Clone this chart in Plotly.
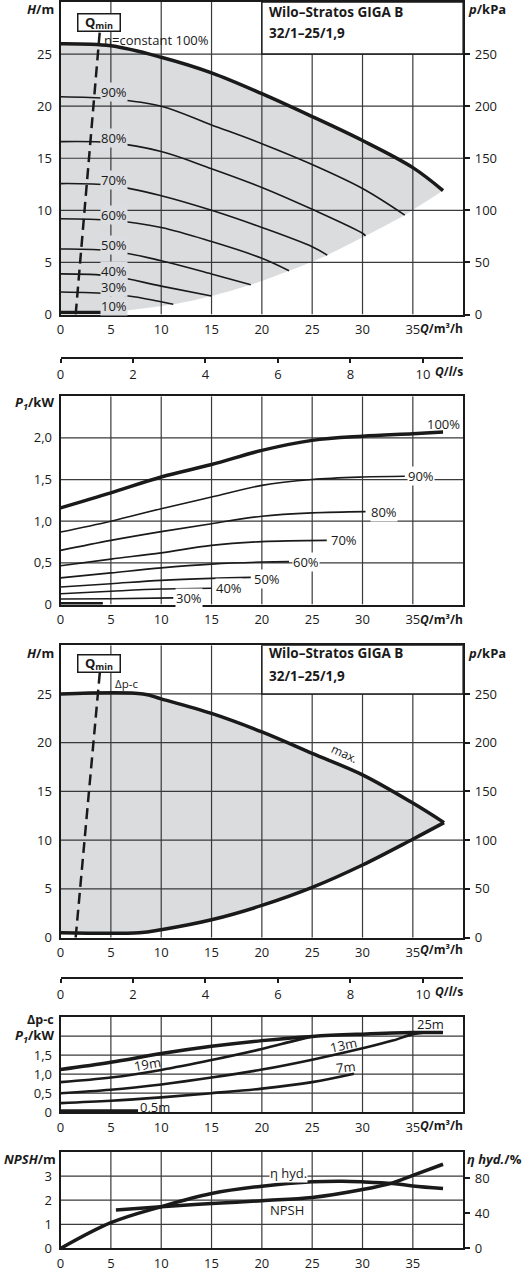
import plotly.graph_objects as go

W, H = 523, 1280
FONT = "Open Sans"
INK = "#1a1a1a"
GRID = "#3a3a3a"
FILL = "rgba(40,46,62,0.17)"
FILL_SOLID = "#dcdde0"

# ---------------- data ----------------
# Chart 1: head H (m) vs flow Q (m3/h), constant speed curves
n100_q = [0, 5, 10, 15, 20, 25, 30, 35, 38]
n100_h = [26.0, 25.8, 24.7, 23.2, 21.2, 19.0, 16.7, 14.1, 11.9]
n90_q = [0, 5, 10, 15, 20, 25, 30, 34.2]
n90_h = [20.9, 20.7, 20.0, 18.2, 16.4, 14.4, 12.1, 9.55]
n80_q = [0, 5, 10, 15, 20, 25, 30, 30.3]
n80_h = [16.6, 16.5, 15.65, 14.0, 12.2, 10.1, 7.8, 7.55]
n70_q = [0, 5, 10, 15, 20, 25, 26.5]
n70_h = [12.57, 12.4, 11.4, 10.0, 8.35, 6.5, 5.7]
n60_q = [0, 5, 10, 15, 20, 22.7]
n60_h = [9.2, 9.05, 8.35, 7.0, 5.4, 4.2]
n50_q = [0, 5, 10, 15, 18.9]
n50_h = [6.29, 6.13, 5.17, 3.9, 2.86]
n40_q = [0, 5, 10, 15]
n40_h = [3.9, 3.7, 2.73, 1.78]
n30_q = [0, 5, 7.5, 11.2]
n30_h = [2.16, 2.0, 1.68, 0.98]
n10_q = [0, 4.2]
n10_h = [0.2, 0.2]
env_q = [0, 4.2, 11.2, 15, 18.9, 22.7, 26.5, 30.3, 34.2, 38]
env_h = [0, 0.15, 0.98, 1.78, 2.86, 4.2, 5.7, 7.55, 9.55, 11.9]
qmin_q = [1.5, 3.9]
qmin_h = [0, 27.2]
speed_labels = ["90%", "80%", "70%", "60%", "50%", "40%", "30%", "10%"]
speed_label_h = [21.33, 16.98, 12.89, 9.52, 6.67, 4.22, 2.64, 0.83]

# Chart 2: power P1 (kW) vs Q, constant speed
p100_q = [0, 5, 10, 15, 20, 25, 30, 35, 38]
p100_p = [1.16, 1.34, 1.53, 1.68, 1.85, 1.97, 2.02, 2.05, 2.07]
p90_q = [0, 5, 10, 15, 20, 25, 30, 34.2]
p90_p = [0.87, 1.0, 1.15, 1.29, 1.43, 1.50, 1.53, 1.54]
p80_q = [0, 5, 10, 15, 20, 25, 30.3]
p80_p = [0.65, 0.77, 0.875, 0.97, 1.06, 1.10, 1.115]
p70_q = [0, 5, 10, 15, 20, 26.45]
p70_p = [0.465, 0.545, 0.62, 0.71, 0.755, 0.77]
p60_q = [0, 5, 10, 15, 20, 22.7]
p60_p = [0.32, 0.38, 0.44, 0.485, 0.51, 0.515]
p50_q = [0, 5, 10, 15, 18.9]
p50_p = [0.21, 0.25, 0.29, 0.314, 0.326]
p40_q = [0, 5, 10, 15]
p40_p = [0.13, 0.16, 0.186, 0.195]
p30_q = [0, 5, 11.2]
p30_p = [0.067, 0.07, 0.08]
p10_q = [0, 4.2]
p10_p = [0.01, 0.01]
power_labels = ["100%", "90%", "80%", "70%", "60%", "50%", "40%", "30%"]
power_label_q = [36.3, 34.45, 30.7, 26.8, 23.0, 19.1, 15.3, 11.4]
power_label_p = [2.17, 1.54, 1.115, 0.77, 0.515, 0.31, 0.195, 0.08]

# Chart 3: delta p-c operating field
dpmax_q = [0, 8.2, 10, 15, 20, 25, 30, 35, 38.1]
dpmax_h = [25, 25, 24.5, 23.0, 21.1, 18.9, 16.7, 13.8, 11.8]
dpmin_q = [0, 7.8, 10, 15, 20, 25, 30, 35, 38.1]
dpmin_h = [0.5, 0.5, 0.81, 1.83, 3.3, 5.15, 7.45, 10.1, 11.8]

# Chart 4: P1 (kW) for delta p-c set points
c25_q = [0, 5, 10, 15, 20, 25, 30, 35, 38]
c25_p = [1.12, 1.31, 1.54, 1.73, 1.88, 1.99, 2.05, 2.09, 2.09]
c19_q = [0, 5, 10, 15, 20, 23, 25]
c19_p = [0.79, 0.91, 1.11, 1.37, 1.66, 1.86, 1.99]
c13_q = [0, 5, 10, 15, 20, 25, 30, 33, 35, 36]
c13_p = [0.50, 0.59, 0.73, 0.91, 1.12, 1.38, 1.68, 1.88, 2.05, 2.09]
c7_q = [0, 5, 10, 15, 20, 25, 29.15]
c7_p = [0.24, 0.30, 0.39, 0.50, 0.62, 0.79, 1.01]
c05_q = [0, 7.7]
c05_p = [0.03, 0.03]

# Chart 5: NPSH (m) and hydraulic efficiency (%)
npsh_q = [5.5, 10, 15, 20, 25, 30, 33, 35, 38]
npsh_m = [1.59, 1.73, 1.86, 1.98, 2.11, 2.44, 2.72, 3.03, 3.49]
eta_q = [0, 5, 10, 15, 20, 25, 28, 30, 33, 35, 38]
eta_pct = [0, 29.4, 47.6, 62.6, 71, 75.9, 76.6, 75.9, 74, 71.3, 68.3]

q_ticks = [0, 5, 10, 15, 20, 25, 30, 35]
ls_ticks = [0, 2, 4, 6, 8, 10]
h_ticks = [0, 5, 10, 15, 20, 25]
kpa_ticks = [0, 50, 100, 150, 200, 250]
p_ticks = [0, 0.5, 1.0, 1.5, 2.0]
p_ticktext = ["0", "0,5", "1,0", "1,5", "2,0"]
p4_ticktext = ["0", "0,5", "1,0", "1,5", ""]
npsh_ticks = [0, 1, 2, 3]
eta_ticks = [0, 40, 80]


# ---------------- helpers ----------------
def fy(px):
    return 1 - px / H


def fx(px):
    return px / W


XD = [fx(57), fx(462.7)]
QMAX = 40
tickfont = dict(family=FONT, size=13, color=INK)

traces = []


def curve(xs, ys, xa, ya, w=1.6, dash=None, shape="spline"):
    traces.append(go.Scatter(
        x=xs, y=ys, mode="lines", xaxis=xa, yaxis=ya,
        line=dict(color=INK, width=w, shape=shape, smoothing=1.0, dash=dash),
        hoverinfo="skip", showlegend=False))


def area(xs, ys, xa, ya):
    traces.append(go.Scatter(
        x=xs, y=ys, mode="lines", fill="toself", fillcolor=FILL,
        xaxis=xa, yaxis=ya, line=dict(width=0, shape="spline", smoothing=0.8),
        hoverinfo="skip", showlegend=False))


def gridlines(xa, ya, yvals, ytop):
    xs, ys = [], []
    for v in q_ticks[1:]:
        xs += [v, v, None]
        ys += [0, ytop, None]
    for v in yvals[1:]:
        xs += [0, QMAX, None]
        ys += [v, v, None]
    traces.append(go.Scatter(x=xs, y=ys, mode="lines", xaxis=xa, yaxis=ya,
                             line=dict(color=GRID, width=1.2), connectgaps=False,
                             hoverinfo="skip", showlegend=False))


def dummy(xa, ya):
    traces.append(go.Scatter(x=[None], y=[None], xaxis=xa, yaxis=ya,
                             mode="lines", hoverinfo="skip", showlegend=False))


annotations = []


def ann(text, x, y, xref="paper", yref="paper", xanchor="left", yanchor="middle",
        size=13, bg=None, angle=0, **kw):
    d = dict(text=text, x=x, y=y, xref=xref, yref=yref, xanchor=xanchor,
             yanchor=yanchor, showarrow=False, textangle=angle,
             font=dict(family=FONT, size=size, color=INK), borderpad=0)
    if bg:
        d["bgcolor"] = bg
    d.update(kw)
    annotations.append(d)


def xgrid(anchor):
    return dict(domain=XD, anchor=anchor, range=[0, QMAX], tickvals=q_ticks,
                showgrid=False, zeroline=False,
                showline=True, mirror=True, linecolor=INK, linewidth=2,
                ticks="", tickfont=tickfont, ticklabelstandoff=2)


def ygrid(anchor, dom, rng, tv, tt=None):
    d = dict(domain=dom, anchor=anchor, range=list(rng), tickvals=tv,
             showgrid=False, zeroline=False,
             showline=True, mirror=True, linecolor=INK, linewidth=2,
             ticks="", tickfont=tickfont, ticklabelstandoff=4)
    if tt is not None:
        d["ticktext"] = tt
    return d


def yright(over, anchor, rng, tv):
    return dict(overlaying=over, anchor=anchor, side="right", range=list(rng),
                tickvals=tv, ticks="outside", ticklen=5, tickcolor=INK, tickwidth=1.5,
                showgrid=False, zeroline=False, showline=True, linecolor=INK,
                linewidth=2, tickfont=tickfont, ticklabelstandoff=2)


def lsaxis(anchor):
    return dict(domain=XD, anchor=anchor, range=[0, QMAX / 3.6], tickvals=ls_ticks,
                ticks="outside", ticklen=4, tickcolor=INK, tickwidth=1.5,
                showline=True, linecolor=INK, linewidth=2, showgrid=False,
                zeroline=False, tickfont=tickfont)


# ---------------- chart 1 ----------------
gridlines("x", "y", h_ticks, 30)
area(n100_q + env_q[::-1], n100_h + env_h[::-1], "x", "y")
curve(n90_q, n90_h, "x", "y")
curve(n80_q, n80_h, "x", "y")
curve(n70_q, n70_h, "x", "y")
curve(n60_q, n60_h, "x", "y")
curve(n50_q, n50_h, "x", "y")
curve(n40_q, n40_h, "x", "y")
curve(n30_q, n30_h, "x", "y")
curve(n10_q, n10_h, "x", "y", w=3.5, shape="linear")
curve(n100_q, n100_h, "x", "y", w=3.5)
curve(qmin_q, qmin_h, "x", "y", w=2.5, dash="11px,6px", shape="linear")
dummy("x", "y2")
dummy("x2", "y3")

for t, hv in zip(speed_labels, speed_label_h):
    ann(t, 3.9, hv, xref="x", yref="y", bg=FILL_SOLID)
ann("n=constant 100%", 4.25, 26.35, xref="x", yref="y")

# ---------------- chart 2 ----------------
gridlines("x3", "y4", p_ticks, 2.5)
for xs, ys in [(p90_q, p90_p), (p80_q, p80_p), (p70_q, p70_p), (p60_q, p60_p),
               (p50_q, p50_p), (p40_q, p40_p), (p30_q, p30_p)]:
    curve(xs, ys, "x3", "y4")
curve(p10_q, p10_p, "x3", "y4", w=3.5, shape="linear")
curve(p100_q, p100_p, "x3", "y4", w=3.5)
for t, qv, pv in zip(power_labels, power_label_q, power_label_p):
    ann(t, qv, pv, xref="x3", yref="y4", bg="white" if t != "100%" else None)

# ---------------- chart 3 ----------------
gridlines("x4", "y5", h_ticks, 30)
area(dpmax_q + dpmin_q[::-1], dpmax_h + dpmin_h[::-1], "x4", "y5")
curve(dpmax_q, dpmax_h, "x4", "y5", w=3.5)
curve(dpmin_q, dpmin_h, "x4", "y5", w=3.5)
curve(qmin_q, qmin_h, "x4", "y5", w=2.5, dash="11px,6px", shape="linear")
dummy("x4", "y6")
dummy("x5", "y7")
ann("Δp-c", 5.3, 26.1, xref="x4", yref="y5", size=11.5)
ann("max.", 28.2, 18.9, xref="x4", yref="y5", xanchor="center", size=12, angle=25)

# ---------------- chart 4 ----------------
gridlines("x6", "y8", p_ticks, 2.5)
curve(c19_q, c19_p, "x6", "y8", w=2.6)
curve(c13_q, c13_p, "x6", "y8", w=2.6)
curve(c7_q, c7_p, "x6", "y8", w=2.6)
curve(c05_q, c05_p, "x6", "y8", w=3.5, shape="linear")
curve(c25_q, c25_p, "x6", "y8", w=3.5)
ann("25m", 36.8, 2.32, xref="x6", yref="y8", xanchor="center")
ann("19m", 8.6, 1.26, xref="x6", yref="y8", xanchor="center", angle=-10)
ann("13m", 28.1, 1.77, xref="x6", yref="y8", xanchor="center", angle=-12)
ann("7m", 28.3, 1.18, xref="x6", yref="y8", xanchor="center", angle=-6)
ann("0,5m", 9.4, 0.15, xref="x6", yref="y8", xanchor="center")

# ---------------- chart 5 ----------------
gridlines("x7", "y9", npsh_ticks, 4)
curve(npsh_q, npsh_m, "x7", "y9", w=3.5)
curve(eta_q, eta_pct, "x7", "y10", w=3.5)
ann("η hyd.", 22.6, 3.11, xref="x7", yref="y9", xanchor="center", bg="white")
ann("NPSH", 22.5, 1.6, xref="x7", yref="y9", xanchor="center")


# ---------------- titles / boxes ----------------
def header(y1, y2, qmin_y):
    ann("<b>Wilo–Stratos GIGA B</b>", fx(266), fy(y1), size=13.5)
    ann("<b>32/1–25/1,9</b>", fx(266), fy(y2), size=13.5)
    ann("<b>Q<sub>min</sub></b>", fx(95.7), fy(qmin_y), xanchor="center", size=13,
        bg="white", bordercolor=INK, borderwidth=1.5, borderpad=1, width=39, height=14)


header(11.5, 32.7, 21.5)
header(657.3, 680, 667.4)

# axis titles
ann("<b><i>H</i>/m</b>", fx(51), fy(8), xanchor="right")
ann("<b><i>p</i>/kPa</b>", fx(467), fy(8))
ann("<b><i>Q</i>/m³/h</b>", fx(464), fy(330.5), xanchor="right", size=12)
ann("<b><i>Q</i>/<i>l</i>/s</b>", fx(464), fy(373.5), xanchor="right", size=12)
ann("<b><i>P<sub>1</sub></i>/kW</b>", fx(51), fy(405), xanchor="right")
ann("<b><i>Q</i>/m³/h</b>", fx(464), fy(623.3), xanchor="right", size=12)
ann("<b><i>H</i>/m</b>", fx(51), fy(656.7), xanchor="right")
ann("<b><i>p</i>/kPa</b>", fx(467), fy(656.7))
ann("<b><i>Q</i>/m³/h</b>", fx(464), fy(956), xanchor="right", size=12)
ann("<b><i>Q</i>/<i>l</i>/s</b>", fx(464), fy(998.3), xanchor="right", size=12)
ann("<b>Δp-c</b>", fx(51), fy(1026.5), xanchor="right", size=12.5)
ann("<b><i>P<sub>1</sub></i>/kW</b>", fx(51), fy(1043.5), xanchor="right")
ann("<b><i>Q</i>/m³/h</b>", fx(464), fy(1133.3), xanchor="right", size=12)
ann("<b><i>NPSH</i>/m</b>", fx(53), fy(1166.7), xanchor="right")
ann("<b><i>η hyd.</i>/%</b>", fx(466), fy(1166.7))

shapes = [
    dict(type="rect", xref="x", yref="y", x0=20, x1=40, y0=25, y1=30,
         fillcolor="white", line=dict(color=INK, width=1.5), layer="above"),
    dict(type="rect", xref="x4", yref="y5", x0=20, x1=40, y0=25, y1=30,
         fillcolor="white", line=dict(color=INK, width=1.5), layer="above"),
]

fig = go.Figure(traces)
fig.update_layout(
    width=W, height=H, autosize=False,
    margin=dict(l=0, r=0, t=0, b=0, pad=0),
    paper_bgcolor="white", plot_bgcolor="white",
    font=dict(family=FONT, size=13, color=INK),
    showlegend=False,
    annotations=annotations,
    shapes=shapes,
    # chart 1
    xaxis=xgrid("y"),
    yaxis=ygrid("x", [fy(316), fy(1)], (0, 30), h_ticks),
    yaxis2=yright("y", "x", (0, 300), kpa_ticks),
    xaxis2=lsaxis("y3"),
    yaxis3=dict(domain=[fy(359), fy(358)], anchor="x2", visible=False),
    # chart 2
    xaxis3=xgrid("y4"),
    yaxis4=ygrid("x3", [fy(608.3), fy(398.3)], (0, 2.5), p_ticks, p_ticktext),
    # chart 3
    xaxis4=xgrid("y5"),
    yaxis5=ygrid("x4", [fy(944), fy(649.3)], (0, 30), h_ticks),
    yaxis6=yright("y5", "x4", (0, 300), kpa_ticks),
    xaxis5=lsaxis("y7"),
    yaxis7=dict(domain=[fy(984), fy(983)], anchor="x5", visible=False),
    # chart 4
    xaxis6=xgrid("y8"),
    yaxis8=ygrid("x6", [fy(1120), fy(1024)], (0, 2.5), p_ticks, p4_ticktext),
    # chart 5
    xaxis7=xgrid("y9"),
    yaxis9=ygrid("x7", [fy(1257.3), fy(1160)], (0, 4), npsh_ticks),
    yaxis10=yright("y9", "x7", (0, 110), eta_ticks),
)

fig.write_html("out.html", config={"displayModeBar": False},
               post_script="document.body.style.margin='0';")
